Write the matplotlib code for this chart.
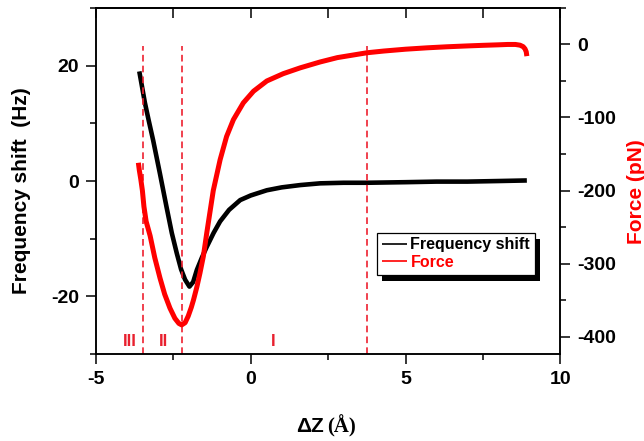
"""
Frequency shift and force versus tip displacement
"""
import matplotlib
matplotlib.use('Agg')
import matplotlib.pyplot as plt
from matplotlib.patches import Rectangle
from matplotlib.ticker import MultipleLocator
from matplotlib.transforms import IdentityTransform

# pylint: disable=invalid-name

plt.rcParams['font.family'] = ['Liberation Sans', 'DejaVu Sans']
plt.rcParams['font.weight'] = 'bold'
plt.rcParams['axes.unicode_minus'] = False

# frequency shift (Hz) vs dZ (A)
dz_freq = [-3.60, -3.50, -3.42, -3.30, -3.15, -2.93, -2.72, -2.55, -2.39,
           -2.25, -2.12, -1.98, -1.86, -1.74, -1.58, -1.42, -1.20, -0.99,
           -0.70, -0.34, 0.0, 0.52, 1.0, 1.6, 2.24, 3.0, 3.75, 5.0, 6.0,
           7.0, 8.0, 8.92]
freq = [19.0, 16.0, 13.6, 10.6, 7.0, 1.2, -4.5, -9.0, -12.5,
        -15.3, -17.1, -18.3, -17.5, -15.4, -13.3, -11.4, -9.0, -7.0,
        -5.0, -3.3, -2.5, -1.6, -1.1, -0.7, -0.4, -0.3, -0.3, -0.2, -0.1,
        -0.1, 0.0, 0.1]

# force (pN) vs dZ (A)
dz_force = [-3.63, -3.60, -3.55, -3.50, -3.45, -3.38, -3.25, -3.10, -2.93,
            -2.78, -2.61, -2.45, -2.32, -2.23, -2.12, -2.02, -1.92, -1.85,
            -1.74, -1.64, -1.53, -1.42, -1.21, -0.99, -0.78, -0.56, -0.24,
            0.09, 0.52, 1.05, 1.60, 2.24, 2.8, 3.75, 4.3, 5.0, 5.7, 6.33,
            7.0, 7.5, 8.0, 8.3, 8.55, 8.7, 8.8, 8.86, 8.9, 8.92]
force = [-162, -172, -185, -200, -222, -242, -262, -292, -320,
         -342, -361, -375, -382, -384, -381, -372, -360, -350,
         -332, -313, -290, -258, -200, -158, -126, -103, -80,
         -64, -50, -40, -32, -24, -18, -11.4, -9, -6.5, -4.6, -3.2,
         -2, -1.2, -0.5, 0, 0, -1, -3, -6, -10, -16]

regions_x = [-3.47, -2.22, 3.75]
region_labels = ['III', 'II', 'I']
region_label_x = [-3.9, -2.82, 0.72]

if __name__ == "__main__":
    fig = plt.figure(figsize=(6.44, 4.41), dpi=100)
    ax = fig.add_axes([0.149, 0.197, 0.721, 0.785])
    ax2 = ax.twinx()

    l1, = ax.plot(dz_freq, freq, color='black', lw=3.3,
                  solid_joinstyle='round', solid_capstyle='butt')
    l2, = ax2.plot(dz_force, force, color='#ff0000', lw=3.6,
                   solid_joinstyle='round', solid_capstyle='butt')

    for xv in regions_x:
        ax.plot([xv, xv], [-30, 23.4], color='#ee2030', lw=1.2,
                dashes=(4, 2.5))
    for lab, xv in zip(region_labels, region_label_x):
        ax.text(xv, -27.8, lab, color='#e8202e', fontsize=12,
                fontweight='bold', ha='center', va='center')

    ax.set_xlim(-5, 10)
    ax.set_ylim(-30, 30)
    ax2.set_ylim(-424, 50)

    ax.xaxis.set_major_locator(MultipleLocator(5))
    ax.xaxis.set_minor_locator(MultipleLocator(2.5))
    ax.yaxis.set_major_locator(MultipleLocator(20))
    ax.yaxis.set_minor_locator(MultipleLocator(10))
    ax2.yaxis.set_major_locator(MultipleLocator(100))
    ax2.yaxis.set_minor_locator(MultipleLocator(50))

    top = ax.secondary_xaxis('top')
    top.xaxis.set_major_locator(MultipleLocator(5))
    top.xaxis.set_minor_locator(MultipleLocator(2.5))
    top.tick_params(which='both', direction='in', length=7, width=1.1,
                    labeltop=False)
    top.spines['top'].set_linewidth(1.1)

    ax.tick_params(which='major', direction='out', length=7, width=1.1,
                   labelsize=14, pad=5)
    ax.tick_params(which='minor', direction='out', length=4, width=1.1)
    ax2.tick_params(which='major', direction='out', length=7, width=1.1,
                    labelsize=14, pad=5)
    ax2.tick_params(which='minor', direction='out', length=4, width=1.1)
    for a in (ax, ax2):
        for s in a.spines.values():
            s.set_linewidth(1.1)

    fig.text(22 / 644, 1 - 191 / 441, 'Frequency shift  (Hz)', rotation=90,
             ha='center', va='center', fontsize=15, fontweight='bold')
    fig.text(636 / 644, 1 - 192 / 441, 'Force (pN)', rotation=90,
             ha='center', va='center', fontsize=15, fontweight='bold',
             color='#ff0000')
    fig.text(324 / 644, 1 - 426 / 441, '\u0394Z', ha='right', va='center',
             fontsize=15, fontweight='bold')
    fig.text(327 / 644, 1 - 426 / 441, '(\u00c5)', ha='left', va='center',
             fontsize=15, fontweight='bold', family='Liberation Serif')

    leg = ax2.legend([l1, l2], ['Frequency shift', 'Force'],
                     loc='upper left', bbox_to_anchor=(0.605, 0.351),
                     borderaxespad=0, fontsize=11.5, handlelength=1.6,
                     handletextpad=0.2, borderpad=0.3, labelspacing=0.15,
                     fancybox=False, framealpha=1, edgecolor='black')
    leg.get_frame().set_linewidth(0.9)
    for h in leg.get_lines():
        h.set_linewidth(1.2)
    leg.get_texts()[1].set_color('#ff0000')
    for t in leg.get_texts():
        t.set_fontweight('bold')

    fig.canvas.draw()
    bb = leg.get_window_extent()
    shadow = Rectangle((bb.x0 + 5, bb.y0 - 6), bb.width, bb.height,
                       transform=IdentityTransform(), facecolor='black',
                       edgecolor='none', zorder=4.9)
    ax2.add_artist(shadow)

    fig.savefig('out.png', dpi=100)
